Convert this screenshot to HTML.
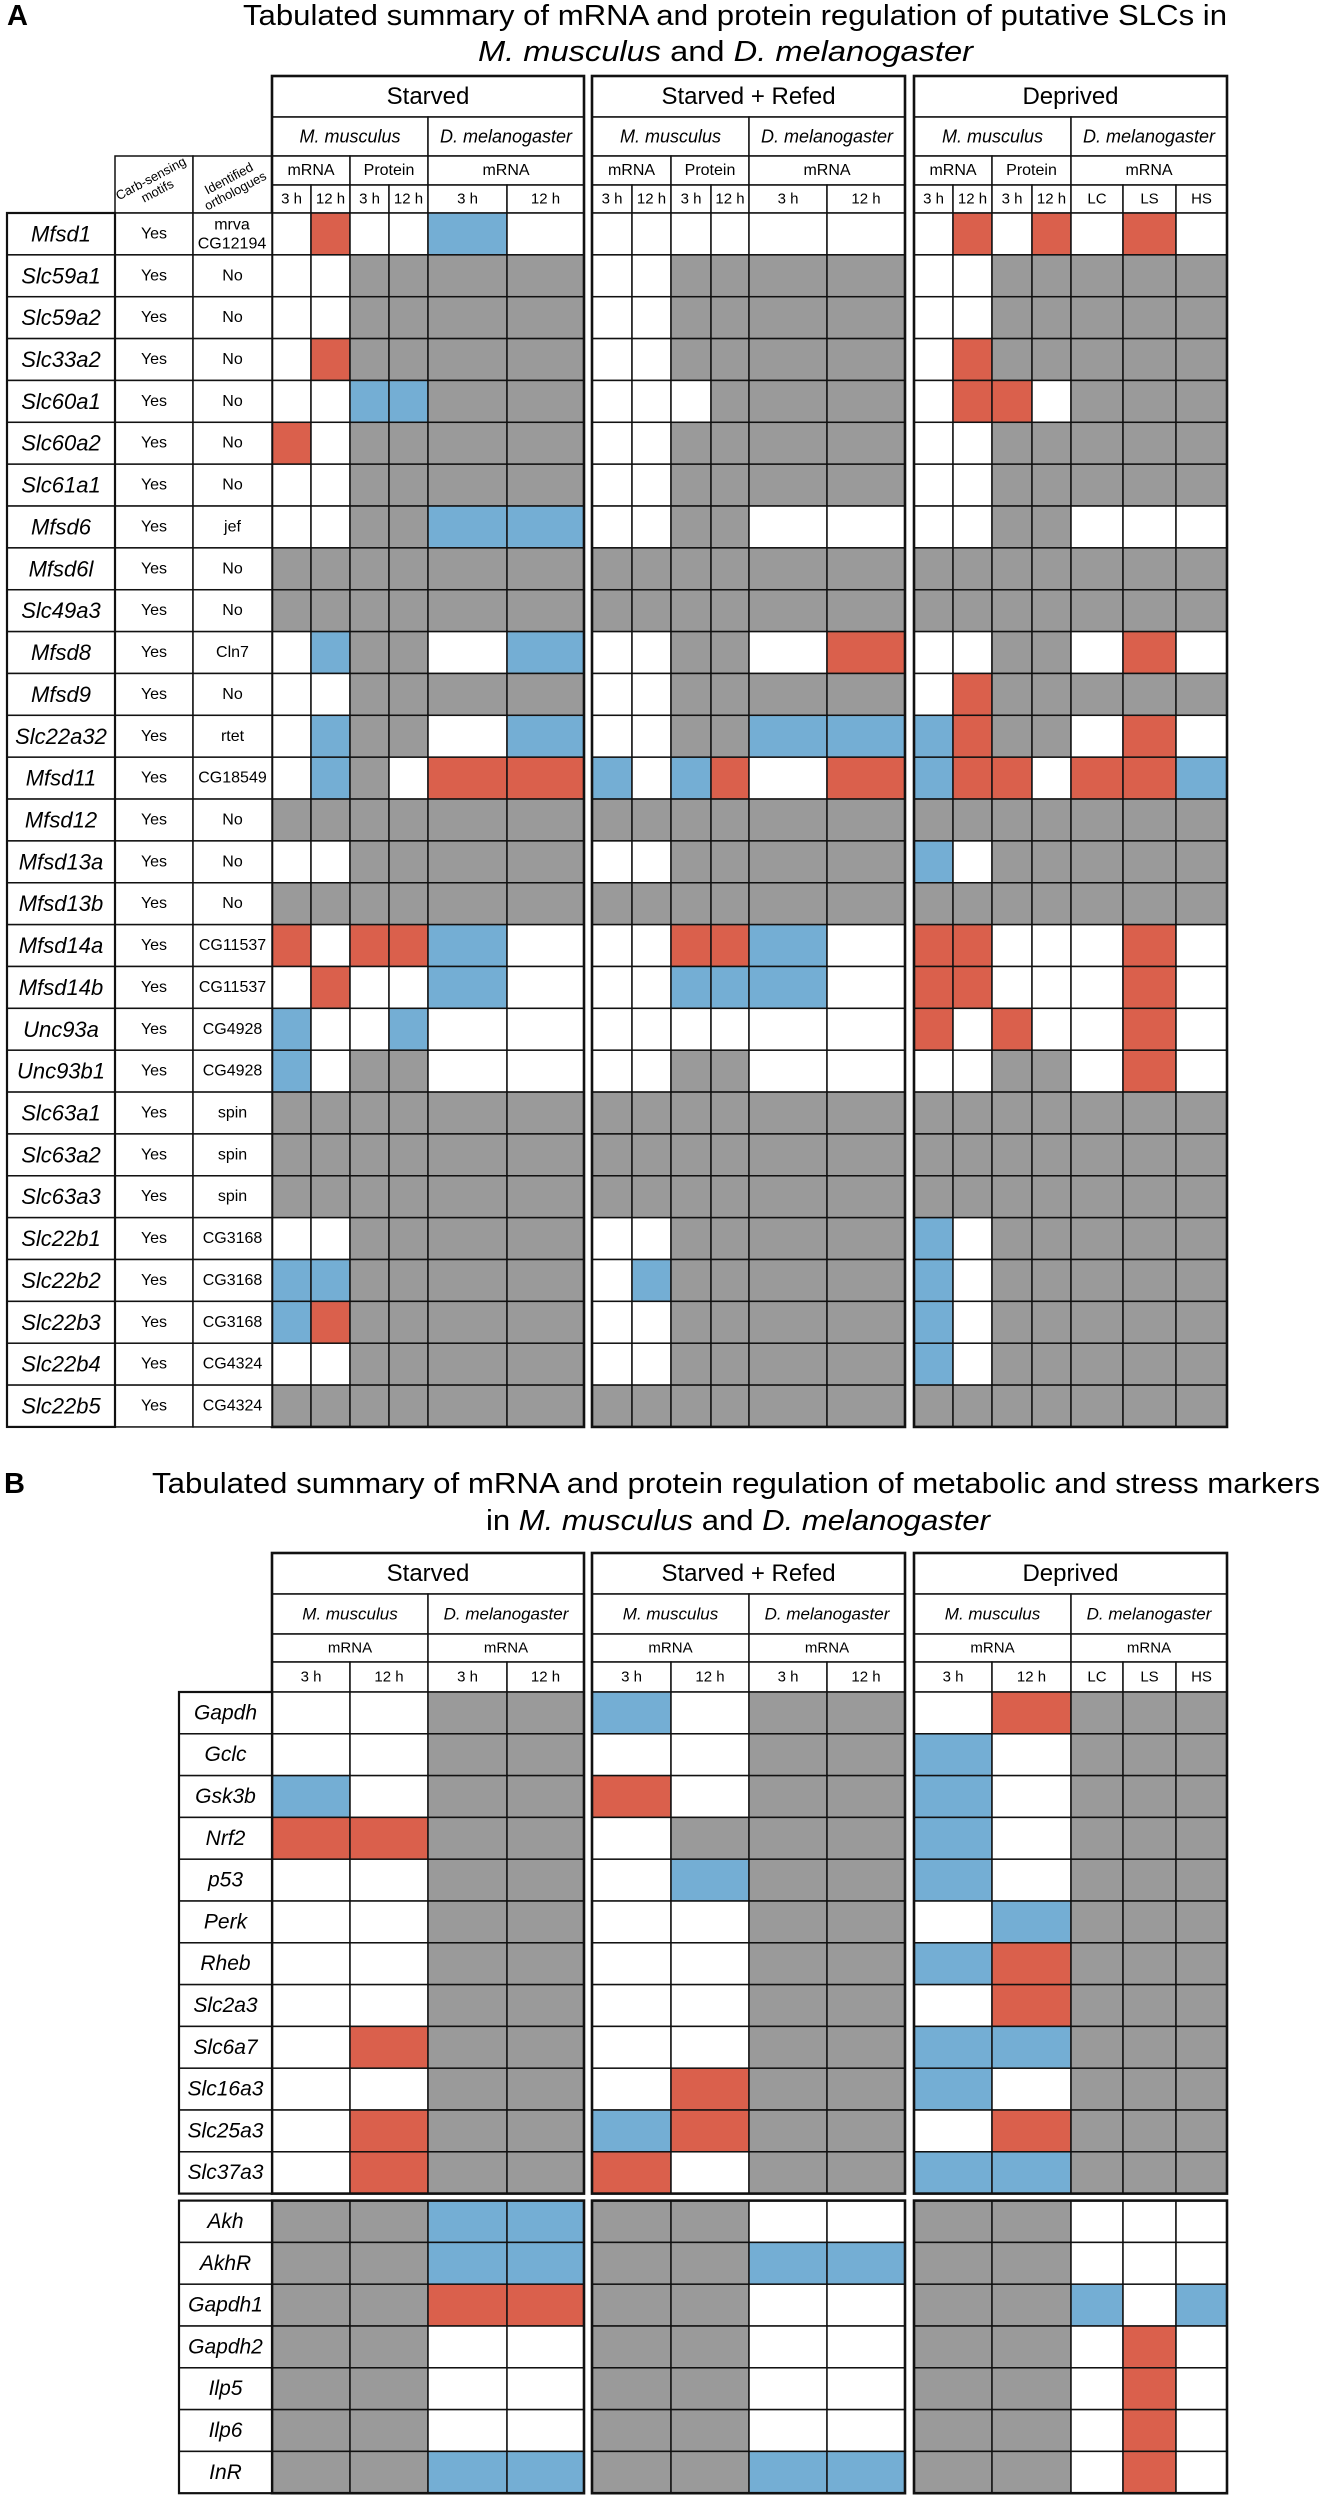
<!DOCTYPE html>
<html><head><meta charset="utf-8"><style>
html,body{margin:0;padding:0;background:#fff;}
svg{display:block;font-family:"Liberation Sans",Arial,sans-serif;}
</style></head><body>
<svg id="fig" width="1327" height="2500" viewBox="0 0 1327 2500" xmlns="http://www.w3.org/2000/svg">
<text x="7" y="25" font-size="29" font-weight="bold">A</text>
<text x="243" y="25" font-size="29" textLength="984" lengthAdjust="spacingAndGlyphs">Tabulated summary of mRNA and protein regulation of putative SLCs in</text>
<text x="478" y="61" font-size="29" textLength="495" lengthAdjust="spacingAndGlyphs"><tspan font-style="italic">M. musculus</tspan> and <tspan font-style="italic">D. melanogaster</tspan></text>
<text x="4" y="1493" font-size="29" font-weight="bold">B</text>
<text x="152" y="1493" font-size="29" textLength="1168" lengthAdjust="spacingAndGlyphs">Tabulated summary of mRNA and protein regulation of metabolic and stress markers</text>
<text x="486" y="1530" font-size="29" textLength="504" lengthAdjust="spacingAndGlyphs">in <tspan font-style="italic">M. musculus</tspan> and <tspan font-style="italic">D. melanogaster</tspan></text>
<g id="A"></g><g id="B"></g>
</svg>
<script>
// ---- Panel A data ----
const genesA = ["Mfsd1","Slc59a1","Slc59a2","Slc33a2","Slc60a1","Slc60a2","Slc61a1","Mfsd6","Mfsd6l","Slc49a3","Mfsd8","Mfsd9","Slc22a32","Mfsd11","Mfsd12","Mfsd13a","Mfsd13b","Mfsd14a","Mfsd14b","Unc93a","Unc93b1","Slc63a1","Slc63a2","Slc63a3","Slc22b1","Slc22b2","Slc22b3","Slc22b4","Slc22b5"];
const motifsA = genesA.map(()=> "Yes");
const orthoA = ["mrva|CG12194","No","No","No","No","No","No","jef","No","No","Cln7","No","rtet","CG18549","No","No","No","CG11537","CG11537","CG4928","CG4928","spin","spin","spin","CG3168","CG3168","CG3168","CG4324","CG4324"];
// w=unchanged, g=not measured, r=up, b=down ; Starved(6) Refed(6) Deprived(7)
const starvedA = ["wrwwbw","wwgggg","wwgggg","wrgggg","wwbbgg","rwgggg","wwgggg","wwggbb","gggggg","gggggg","wbggwb","wwgggg","wbggwb","wbgwrr","gggggg","wwgggg","gggggg","rwrrbw","wrwwbw","bwwbww","bwggww","gggggg","gggggg","gggggg","wwgggg","bbgggg","brgggg","wwgggg","gggggg"];
const refedA = ["wwwwww","wwgggg","wwgggg","wwgggg","wwwggg","wwgggg","wwgggg","wwggww","gggggg","gggggg","wwggwr","wwgggg","wwggbb","bwbrwr","gggggg","wwgggg","gggggg","wwrrbw","wwbbbw","wwwwww","wwggww","gggggg","gggggg","gggggg","wwgggg","wbgggg","wwgggg","wwgggg","gggggg"];
const deprivedA = ["wrwrwrw","wwggggg","wwggggg","wrggggg","wrrwggg","wwggggg","wwggggg","wwggwww","ggggggg","ggggggg","wwggwrw","wrggggg","brggwrw","brrwrrb","ggggggg","bwggggg","ggggggg","rrwwwrw","rrwwwrw","rwrwwrw","wwggwrw","ggggggg","ggggggg","ggggggg","bwggggg","bwggggg","bwggggg","bwggggg","ggggggg"];
// ---- Panel B data ----
const genesB = ["Gapdh","Gclc","Gsk3b","Nrf2","p53","Perk","Rheb","Slc2a3","Slc6a7","Slc16a3","Slc25a3","Slc37a3","Akh","AkhR","Gapdh1","Gapdh2","Ilp5","Ilp6","InR"];
const starvedB = ["wwgg","wwgg","bwgg","rrgg","wwgg","wwgg","wwgg","wwgg","wrgg","wwgg","wrgg","wrgg","ggbb","ggbb","ggrr","ggww","ggww","ggww","ggbb"];
const refedB = ["bwgg","wwgg","rwgg","wggg","wbgg","wwgg","wwgg","wwgg","wwgg","wrgg","brgg","rwgg","ggww","ggbb","ggww","ggww","ggww","ggww","ggbb"];
const deprivedB = ["wrggg","bwggg","bwggg","bwggg","bwggg","wbggg","brggg","wrggg","bbggg","bwggg","wrggg","bbggg","ggwww","ggwww","ggbwb","ggwrw","ggwrw","ggwrw","ggwrw"];

const NS="http://www.w3.org/2000/svg";
const COL={w:"#ffffff",g:"#9a9a9a",r:"#da604c",b:"#74aed4"};
const LAB={w:"unchanged",g:"not-measured",r:"upregulated",b:"downregulated"};
function el(tag,attrs,parent,txt){const e=document.createElementNS(NS,tag);for(const k in attrs)e.setAttribute(k,attrs[k]);if(txt!=null)e.textContent=txt;parent.appendChild(e);return e;}
function box(p,x0,y0,x1,y1,fill,sw,name){const r=el("rect",{x:x0,y:y0,width:x1-x0,height:y1-y0,fill:fill,stroke:"#111","stroke-width":sw},p);


return r;}
function txt(p,x,y,s,size,name,opt){opt=opt||{};const t=el("text",Object.assign({x:x,y:y,"font-size":size,"text-anchor":"middle","dominant-baseline":"central"},opt),p,s);


return t;}
function cellBox(p,x0,y0,x1,y1,label,size,name,opt){box(p,x0,y0,x1,y1,"#fff",1.5,name);txt(p,(x0+x1)/2,(y0+y1)/2,label,size,name+"-text",opt);}

// ===== Panel A =====
const gA=document.getElementById("A");
const aTop=76,aR1=117,aR2=156,aR3=185,aR4=213,aRow=41.86;
const aBlocks=[{n:"Starved",x:[272,311,350,389,428,507,584],data:starvedA,dm:["3 h","12 h"]},
 {n:"Starved + Refed",x:[592,632,671,711,749,827,905],data:refedA,dm:["3 h","12 h"]},
 {n:"Deprived",x:[914,953,992,1032,1071,1123,1176,1227],data:deprivedA,dm:["LC","LS","HS"]}];
// side header
cellBox(gA,115,aR2,193,aR4,"",12,"carb-sensing-header");
cellBox(gA,193,aR2,272,aR4,"",12,"orthologues-header");
[["Carb-sensing","motifs",154],["Identified","orthologues",232]].forEach((h,i)=>{
 const g=el("g",{transform:`translate(${h[2]},${(aR2+aR4)/2}) rotate(-28)`},gA);
 txt(g,0,-7,h[0],13,"side-header-line1");txt(g,0,7,h[1],13,"side-header-line2");});
aBlocks.forEach((B,bi)=>{
 const X=B.x,L=X[0],Rr=X[X.length-1],key=["starved","refed","deprived"][bi];
 cellBox(gA,L,aTop,Rr,aR1,B.n,24,key+"-header");
 cellBox(gA,L,aR1,X[4],aR2,"M. musculus",18,key+"-mouse-header",{"font-style":"italic"});
 cellBox(gA,X[4],aR2-39,Rr,aR2,"D. melanogaster",18,key+"-fly-header",{"font-style":"italic"});
 cellBox(gA,L,aR2,X[2],aR3,"mRNA",16,key+"-mouse-mrna");
 cellBox(gA,X[2],aR2,X[4],aR3,"Protein",16,key+"-mouse-protein");
 cellBox(gA,X[4],aR2,Rr,aR3,"mRNA",16,key+"-fly-mrna");
 const tl=["3 h","12 h","3 h","12 h"].concat(B.dm);
 for(let c=0;c<X.length-1;c++)cellBox(gA,X[c],aR3,X[c+1],aR4,tl[c],15,key+"-time-"+c);
 genesA.forEach((g,r)=>{const s=B.data[r];const y0=aR4+r*aRow;
  for(let c=0;c<X.length-1;c++){const v=s[c];box(gA,X[c],y0,X[c+1],y0+aRow,COL[v],1.5,key+"-"+g+"-"+c+"-"+LAB[v]);}});
 box(gA,L,aTop,Rr,aR4+genesA.length*aRow,"none",2.6,key+"-block-frame");
});
genesA.forEach((g,r)=>{const y0=aR4+r*aRow;
 cellBox(gA,7,y0,115,y0+aRow,g,22,"gene-"+g,{"font-style":"italic"});
 cellBox(gA,115,y0,193,y0+aRow,motifsA[r],16,"motif-"+g);
 const o=orthoA[r].split("|");
 if(o.length===1)cellBox(gA,193,y0,272,y0+aRow,o[0],16,"ortho-"+g);
 else{box(gA,193,y0,272,y0+aRow,"#fff",1.5,"ortho-"+g);txt(gA,232,y0+12,o[0],16,"ortho-"+g+"-a");txt(gA,232,y0+31,o[1],16,"ortho-"+g+"-b");}
});
box(gA,7,aR4,115,aR4+genesA.length*aRow,"none",2.2,"gene-column-frame");

// ===== Panel B =====
const gB=document.getElementById("B");
const bTop=1553,bR1=1594,bR2=1634,bR3=1662,bR4=1692,bRow=41.8,bSplit=12,bGap=7;
const bBlocks=[{n:"Starved",x:[272,350,428,507,584],data:starvedB,t:["3 h","12 h","3 h","12 h"]},
 {n:"Starved + Refed",x:[592,671,749,827,905],data:refedB,t:["3 h","12 h","3 h","12 h"]},
 {n:"Deprived",x:[914,992,1071,1123,1176,1227],data:deprivedB,t:["3 h","12 h","LC","LS","HS"]}];
function rowY(r){return bR4+r*bRow+(r>=bSplit?bGap:0);}
bBlocks.forEach((B,bi)=>{
 const X=B.x,L=X[0],Rr=X[X.length-1],key="b-"+["starved","refed","deprived"][bi];
 cellBox(gB,L,bTop,Rr,bR1,B.n,24,key+"-header");
 cellBox(gB,L,bR1,X[2],bR2,"M. musculus",17,key+"-mouse-header",{"font-style":"italic"});
 cellBox(gB,X[2],bR1,Rr,bR2,"D. melanogaster",17,key+"-fly-header",{"font-style":"italic"});
 cellBox(gB,L,bR2,X[2],bR3,"mRNA",15,key+"-mouse-mrna");
 cellBox(gB,X[2],bR2,Rr,bR3,"mRNA",15,key+"-fly-mrna");
 for(let c=0;c<X.length-1;c++)cellBox(gB,X[c],bR3,X[c+1],bR4,B.t[c],15,key+"-time-"+c);
 genesB.forEach((g,r)=>{const s=B.data[r];const y0=rowY(r);
  for(let c=0;c<X.length-1;c++){const v=s[c];box(gB,X[c],y0,X[c+1],y0+bRow,COL[v],1.5,key+"-"+g+"-"+c+"-"+LAB[v]);}});
 box(gB,L,bTop,Rr,rowY(bSplit-1)+bRow,"none",2.6,key+"-frame-top");
 box(gB,L,rowY(bSplit),Rr,rowY(genesB.length-1)+bRow,"none",2.6,key+"-frame-bottom");
});
genesB.forEach((g,r)=>{const y0=rowY(r);cellBox(gB,179,y0,272,y0+bRow,g,21,"b-gene-"+g,{"font-style":"italic"});});
box(gB,179,bR4,272,rowY(bSplit-1)+bRow,"none",2.2,"b-gene-frame-top");
box(gB,179,rowY(bSplit),272,rowY(genesB.length-1)+bRow,"none",2.2,"b-gene-frame-bottom");
</script>
</body></html>
